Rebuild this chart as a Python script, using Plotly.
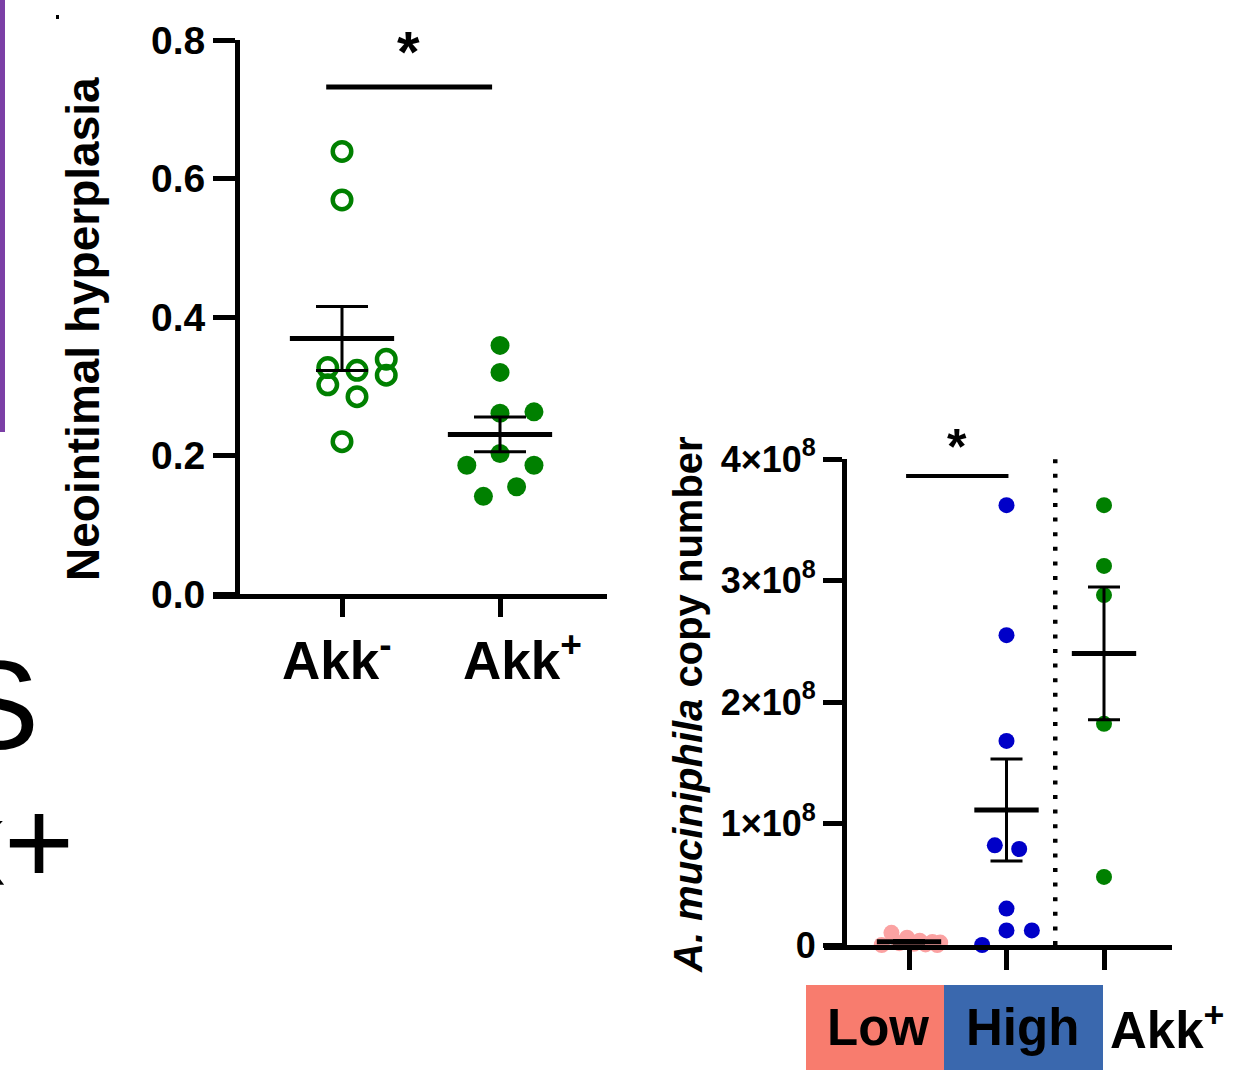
import numpy as np
import plotly.graph_objects as go

W, H = 1240, 1073
FONT = "Liberation Sans, Arial, Helvetica, sans-serif"

# ---------------- Panel 1: Neointimal hyperplasia ----------------
p1_categories = ["Akk<sup>-</sup>", "Akk<sup>+</sup>"]
p1_akk_neg = [0.639, 0.569, 0.327, 0.302, 0.323, 0.285, 0.339, 0.316, 0.220]
p1_akk_pos = [0.359, 0.320, 0.261, 0.263, 0.203, 0.186, 0.186, 0.155, 0.141]
p1_yticks = [0.0, 0.2, 0.4, 0.6, 0.8]
p1_yticktext = ["0.0", "0.2", "0.4", "0.6", "0.8"]
p1_title = "Neointimal hyperplasia"

# ---------------- Panel 2: A. muciniphila copy number ----------------
p2_groups = ["Low", "High", "Akk<sup>+</sup>"]
p2_low = [0.10e8, 0.06e8, 0.035e8, 0.025e8, 0.02e8, 0.015e8, 0.01e8, 0.005e8, 0.0, 0.0]
p2_high = [3.62e8, 2.55e8, 1.68e8, 0.82e8, 0.79e8, 0.30e8, 0.12e8, 0.12e8, 0.0]
p2_akk = [3.62e8, 3.12e8, 2.88e8, 1.82e8, 0.56e8]
p2_yticks = [0, 1e8, 2e8, 3e8, 4e8]
p2_yticktext = ["0", "1×10<sup>8</sup>", "2×10<sup>8</sup>", "3×10<sup>8</sup>", "4×10<sup>8</sup>"]
p2_title = "<i>A. muciniphila</i> copy number"

# scatter (beeswarm) horizontal offsets, in category units
p1_neg_jit = [0.0, 0.0, -0.09, -0.09, 0.095, 0.095, 0.28, 0.28, 0.0]
p1_pos_jit = [0.0, 0.0, 0.0, 0.215, 0.0, -0.21, 0.215, 0.105, -0.105]
p2_low_jit = [-0.18, -0.02, 0.11, 0.24, 0.32, -0.10, 0.05, 0.17, -0.28, 0.29]
p2_high_jit = [0.0, 0.0, 0.0, -0.12, 0.13, 0.0, 0.0, 0.26, -0.25]
p2_akk_jit = [0.0, 0.0, 0.0, 0.0, 0.0]

GREEN = "#008000"
BLUE = "#0000C8"
PINK = "#FBA2A2"


def px(x):
    return x / W


def py(y):
    return 1 - y / H


def mean_sem(v):
    a = np.asarray(v, dtype=float)
    return a.mean(), a.std(ddof=1) / np.sqrt(len(a))


fig = go.Figure()


def add_group(xc, vals, jit, xa, ya, marker, cap_px, half):
    xs = [xc + j for j in jit]
    fig.add_trace(go.Scatter(x=xs, y=vals, mode="markers", xaxis=xa, yaxis=ya,
                             marker=marker, cliponaxis=False, hoverinfo="skip"))
    m, s = mean_sem(vals)
    fig.add_trace(go.Scatter(x=[xc], y=[m], mode="markers", xaxis=xa, yaxis=ya,
                             marker=dict(size=1, opacity=0), cliponaxis=False,
                             error_y=dict(type="data", array=[s], width=cap_px,
                                          thickness=3, color="black"),
                             hoverinfo="skip"))
    fig.add_trace(go.Scatter(x=[xc - half, xc + half], y=[m, m], mode="lines",
                             xaxis=xa, yaxis=ya, line=dict(color="black", width=5),
                             cliponaxis=False, hoverinfo="skip"))


# Panel 1 groups
add_group(0, p1_akk_neg, p1_neg_jit, "x", "y",
          dict(symbol="circle-open", size=18.5, color=GREEN, line=dict(width=4.5, color=GREEN)),
          26, 0.33)
add_group(1, p1_akk_pos, p1_pos_jit, "x", "y",
          dict(symbol="circle", size=19, color=GREEN, line=dict(width=0)),
          26, 0.33)

# Panel 2 groups
add_group(0, p2_low, p2_low_jit, "x2", "y2",
          dict(symbol="circle", size=16, color=PINK, line=dict(width=0)), 16, 0.33)
add_group(1, p2_high, p2_high_jit, "x2", "y2",
          dict(symbol="circle", size=16, color=BLUE, line=dict(width=0)), 16, 0.33)
add_group(2, p2_akk, p2_akk_jit, "x2", "y2",
          dict(symbol="circle", size=16, color=GREEN, line=dict(width=0)), 16, 0.33)

axis_common = dict(showgrid=False, zeroline=False, showline=True, linecolor="black",
                   linewidth=5, ticks="outside", tickcolor="black", tickwidth=4.5,
                   fixedrange=True, automargin=False)

tickfont1 = dict(family=FONT, size=39, color="black", weight="bold")
tickfont2 = dict(family=FONT, size=36, color="black", weight="bold")

fig.update_layout(
    template="none",
    width=W, height=H, margin=dict(l=0, r=0, t=0, b=0, pad=0, autoexpand=False),
    paper_bgcolor="white", plot_bgcolor="rgba(0,0,0,0)", showlegend=False,
    xaxis=dict(domain=[px(213), px(607)], range=[-(342 - 213) / 158, 1 + (607 - 500) / 158],
               anchor="y", tickvals=[0, 1], ticktext=p1_categories, showticklabels=False,
               ticklen=18, **axis_common),
    yaxis=dict(domain=[py(594), py(40)], range=[0, 0.8], anchor="free", position=px(237),
               tickvals=p1_yticks, ticktext=p1_yticktext, ticklen=22, tickfont=tickfont1,
               **axis_common),
    xaxis2=dict(domain=[px(824), px(1172)], range=[-(909 - 824) / 97.5, 2 + (1172 - 1104) / 97.5],
                anchor="y2", tickvals=[0, 1, 2], showticklabels=False, ticklen=20,
                **axis_common),
    yaxis2=dict(domain=[py(945), py(459)], range=[0, 4e8], anchor="free", position=px(844),
                tickvals=p2_yticks, ticktext=p2_yticktext, ticklen=19, tickfont=tickfont2,
                **axis_common),
)

shapes = []
# significance bars
shapes.append(dict(type="line", xref="x", yref="y", x0=-0.10, x1=0.95, y0=0.732, y1=0.732,
                   line=dict(color="black", width=5)))
shapes.append(dict(type="line", xref="x2", yref="y2", x0=-0.03, x1=1.02, y0=3.86e8, y1=3.86e8,
                   line=dict(color="black", width=4)))
# dotted separator
shapes.append(dict(type="line", xref="x2", yref="y2", x0=1.5, x1=1.5, y0=0, y1=4e8,
                   line=dict(color="black", width=4.5, dash="4px,10.6px")))
# group label boxes
shapes.append(dict(type="rect", xref="paper", yref="paper", x0=px(806), x1=px(944),
                   y0=py(1070), y1=py(985), fillcolor="#F87C6E", line=dict(width=0), layer="below"))
shapes.append(dict(type="rect", xref="paper", yref="paper", x0=px(944), x1=px(1103),
                   y0=py(1070), y1=py(985), fillcolor="#3A68AE", line=dict(width=0), layer="below"))
# neighbouring panel remnants
shapes.append(dict(type="rect", xref="paper", yref="paper", x0=0, x1=px(5),
                   y0=py(432), y1=1, fillcolor="#7B3FA6", line=dict(width=0)))
shapes.append(dict(type="rect", xref="paper", yref="paper", x0=px(56), x1=px(59),
                   y0=py(19), y1=py(15), fillcolor="black", line=dict(width=0)))
fig.update_layout(shapes=shapes)


def bold(s):
    return dict(family=FONT, size=s, color="black", weight="bold")


ann = []
# category labels of panel 1 (placed in data x-coordinates of the category axis)
for label, xc in zip(p1_categories, [-0.03, 1.14]):
    ann.append(dict(xref="x", yref="paper", x=xc, y=py(656), text=label, showarrow=False,
                    xanchor="center", yanchor="middle", font=bold(53)))
ann.append(dict(xref="x", yref="y", x=0.42, y=0.733, text="*", showarrow=False,
                xanchor="center", yanchor="bottom", font=bold(58)))
ann.append(dict(xref="x2", yref="y2", x=0.49, y=3.85e8, text="*", showarrow=False,
                xanchor="center", yanchor="bottom", font=bold(50)))
ann.append(dict(xref="paper", yref="paper", x=px(83), y=py(329), text=p1_title,
                xanchor="center", yanchor="middle",
                textangle=-90, showarrow=False, font=bold(46)))
ann.append(dict(xref="paper", yref="paper", x=px(688), y=py(705), text=p2_title,
                xanchor="center", yanchor="middle",
                textangle=-90, showarrow=False, font=bold(40)))
for label, xc in zip(p2_groups, [878, 1022, 1167]):
    ann.append(dict(xref="paper", yref="paper", x=px(xc), y=py(1027), text=label,
                    xanchor="center", yanchor="middle", showarrow=False, font=bold(51)))
ann.append(dict(xref="paper", yref="paper", x=px(41), y=py(705), text="S", xanchor="right",
                yanchor="middle", showarrow=False, font=dict(family=FONT, size=126, color="black")))
ann.append(dict(xref="paper", yref="paper", x=px(76), y=py(842), text="k+", xanchor="right",
                yanchor="middle", showarrow=False, font=dict(family=FONT, size=120, color="black")))
fig.update_layout(annotations=ann)

fig.write_html("out.html", config={"displayModeBar": False},
               post_script="document.body.style.margin='0px';document.body.style.overflow='hidden';")
